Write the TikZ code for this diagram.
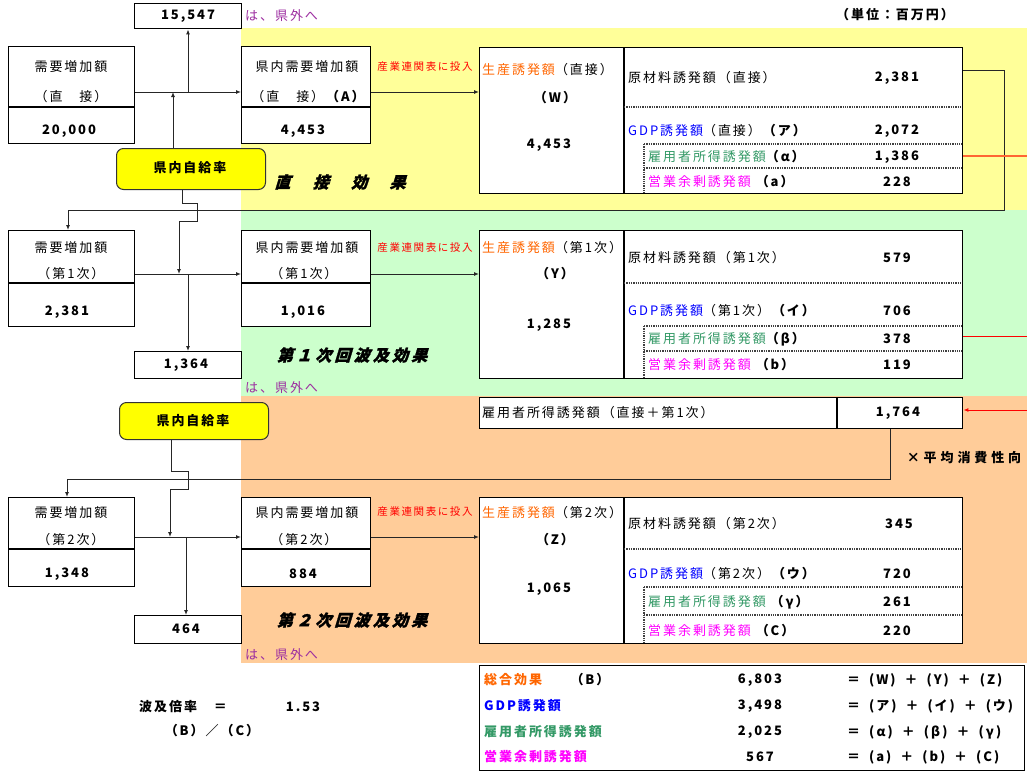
\documentclass[tikz,border=0pt]{standalone}
\usepackage{fontspec}
\setmainfont[LetterSpace=15]{Noto Sans CJK JP}
\newfontfamily\slfont[FakeSlant=0.3,LetterSpace=20,BoldFeatures={FakeBold=1.5}]{Noto Sans CJK JP}
\newfontfamily\widefont[LetterSpace=30]{Noto Sans CJK JP}
\usetikzlibrary{arrows.meta,calc}
\definecolor{bgY}{HTML}{FFFF99}
\definecolor{bgG}{HTML}{CCFFCC}
\definecolor{bgO}{HTML}{FFCC99}
\definecolor{selfY}{HTML}{FFFF00}
\definecolor{cOr}{HTML}{FF6600}
\definecolor{cBl}{HTML}{0000FF}
\definecolor{cGr}{HTML}{339966}
\definecolor{cMg}{HTML}{FF00FF}
\definecolor{cPu}{HTML}{9C2DA0}
\definecolor{cRd}{HTML}{FF0000}
\definecolor{cOl}{HTML}{FF6633}
\newcommand\msz{\fontsize{13}{15}\selectfont}
\newcommand\ssz{\fontsize{10.5}{12}\selectfont}
\newcommand\bsz{\fontsize{16}{18}\selectfont}
\newcommand\gp{\hspace{9pt}}
\begin{document}
\begin{tikzpicture}[x=1pt,y=-1pt,
  box/.style={draw,line width=1.4pt,fill=white,inner sep=0,anchor=north west},
  rbox/.style={draw=black!80,line width=1pt,fill=selfY,rounded corners=7pt,inner sep=0,anchor=north west},
  t/.style={inner sep=0,font=\msz},
  tl/.style={inner sep=0,font=\msz,anchor=west},
  nb/.style={inner sep=0,font=\msz\bfseries},
  red/.style={inner sep=0,font=\ssz,text=cRd},
  pur/.style={inner sep=0,font=\msz,text=cPu,anchor=west},
  eff/.style={inner sep=0,font=\bsz\slfont\bfseries},
  ln/.style={line width=1pt,black!85},
  arr/.style={line width=1pt,black!85,-{Latex[length=5pt,width=4pt]}},
  dsh/.style={line width=1.3pt,densely dotted,black!75},
  sol/.style={line width=1.4pt},
  rline/.style={line width=1pt,cRd},
  oline/.style={line width=1.4pt,cOl}]
\useasboundingbox (0,0) rectangle (1027,771);
% backgrounds
\fill[bgY] (241,28) rectangle (1027,210);
\fill[bgG] (241,210) rectangle (1027,396);
\fill[bgO] (241,396) rectangle (1027,663);

\node[inner sep=0,font=\msz\bfseries] (unit) at (895,15) {（単位：百万円）};

% ================= direct effect =================
\node[box,minimum width=107,minimum height=25] (out0) at (134,3) {};
\node[nb] (out0t) at (188,16) {15,547};
\node[pur] (out0p) at (245,16) {は、県外へ};

\node[box,minimum width=126,minimum height=97] (d0) at (8,46) {};
\draw[sol] (8,107) -- (134,107);
\node[t] (d0a) at (71,67) {需要増加額};
\node[t] (d0b) at (71,97) {（直　接）};
\node[nb] (d0c) at (69,131) {20,000};

\node[box,minimum width=129,minimum height=97] (k0) at (241,46) {};
\draw[sol] (241,107) -- (370,107);
\node[t] (k0a) at (307,67) {県内需要増加額};
\node[t] (k0b) at (309,97) {（直　接）\textbf{（A）}};
\node[nb] (k0c) at (303,131) {4,453};
\node[red] (io0) at (425,67) {産業連関表に投入};

\node[box,minimum width=483,minimum height=146] (p0) at (479,47) {};
\draw[sol] (624,47) -- (624,193);
\draw[dsh] (624,107) -- (962,107);
\draw[dsh] (644,144) -- (962,144);
\draw[dsh] (644,168) -- (962,168);
\draw[dsh] (644,144) -- (644,193);
\node[tl] (p0a) at (482,70) {\textcolor{cOr}{生産誘発額}（直接）};
\node[nb] (p0b) at (555,98) {（W）};
\node[nb] (p0c) at (549,145) {4,453};
\node[tl] (p0d) at (628,78) {原材料誘発額（直接）};
\node[nb] (p0e) at (897,78) {2,381};
\node[tl] (p0f) at (628,131) {\textcolor{cBl}{GDP誘発額}（直接）\textbf{（ア）}};
\node[nb] (p0g) at (897,131) {2,072};
\node[tl] (p0h) at (648,157) {\textcolor{cGr}{雇用者所得誘発額}\textbf{（α）}};
\node[nb] (p0i) at (897,157) {1,386};
\node[tl] (p0j) at (648,182) {\textcolor{cMg}{営業余剰誘発額}\ \textbf{（a）}};
\node[nb] (p0k) at (897,182) {228};

\node[rbox,minimum width=149,minimum height=41] (r0) at (116,148) {};
\node[nb] (r0t) at (190,168) {県内自給率};
\node[eff] (eff0) at (340,182) {直　接　効　果};

\coordinate (a0) at (188,92);
\coordinate (s0) at (173,92);
\draw[arr] (d0.east |- a0) -- (k0.west |- a0);
\draw[arr] (a0) -- (out0.south -| a0);
\draw[arr] (r0.north -| s0) -- (s0);
\draw[arr] (k0.east |- a0) -- (p0.west |- a0);

% feedback from direct
\coordinate (f0a) at (1004,70);
\coordinate (f0b) at (1004,210);
\coordinate (f0c) at (68,210);
\draw[arr] (p0.east |- f0a) -- (f0a) -- (f0b) -- (f0c) -- (68,230);
\coordinate (o0) at (1027,156);
\draw[oline] (p0.east |- o0) -- (o0);

% ================= first round =================
\node[box,minimum width=126,minimum height=96] (d1) at (8,230) {};
\draw[sol] (8,283) -- (134,283);
\node[t] (d1a) at (71,248) {需要増加額};
\node[t] (d1b) at (71,274) {（第1次）};
\node[nb] (d1c) at (67,312) {2,381};

\node[box,minimum width=129,minimum height=96] (k1) at (241,230) {};
\draw[sol] (241,283) -- (370,283);
\node[t] (k1a) at (307,248) {県内需要増加額};
\node[t] (k1b) at (304,274) {（第1次）};
\node[nb] (k1c) at (303,312) {1,016};
\node[red] (io1) at (425,248) {産業連関表に投入};

\node[box,minimum width=107,minimum height=27] (out1) at (134,351) {};
\node[nb] (out1t) at (186,365) {1,364};
\node[pur] (out1p) at (245,388) {は、県外へ};

\node[box,minimum width=483,minimum height=148] (p1) at (479,230) {};
\draw[sol] (624,230) -- (624,378);
\draw[dsh] (624,283) -- (962,283);
\draw[dsh] (644,326) -- (962,326);
\draw[dsh] (644,351) -- (962,351);
\draw[dsh] (644,326) -- (644,378);
\node[tl] (p1a) at (482,248) {\textcolor{cOr}{生産誘発額}（第1次）};
\node[nb] (p1b) at (555,274) {（Y）};
\node[nb] (p1c) at (549,325) {1,285};
\node[tl] (p1d) at (628,258) {原材料誘発額（第1次）};
\node[nb] (p1e) at (897,258) {579};
\node[tl] (p1f) at (628,311) {\textcolor{cBl}{GDP誘発額}（第1次）\textbf{（イ）}};
\node[nb] (p1g) at (897,311) {706};
\node[tl] (p1h) at (648,339) {\textcolor{cGr}{雇用者所得誘発額}\textbf{（β）}};
\node[nb] (p1i) at (897,339) {378};
\node[tl] (p1j) at (648,365) {\textcolor{cMg}{営業余剰誘発額}\ \textbf{（b）}};
\node[nb] (p1k) at (897,365) {119};
\node[eff] (eff1) at (352,355) {第１次回波及効果};

\coordinate (a1) at (188,274);
\coordinate (s1) at (179,274);
\draw[ln] (r0.south -| 182,0) -- (182,203) -- (197,203) -- (197,221) -- (179,221);
\draw[arr] (179,221) -- (s1);
\draw[arr] (d1.east |- a1) -- (k1.west |- a1);
\draw[arr] (a1) -- (out1.north -| a1);
\draw[arr] (k1.east |- a1) -- (p1.west |- a1);
\coordinate (o1) at (1027,336);
\draw[rline] (p1.east |- o1) -- (o1);

% ================= employee income & second round =================
\node[box,minimum width=483,minimum height=31] (e1) at (479,397) {};
\draw[sol] (837,397) -- (837,428);
\node[tl] (e1a) at (482,413) {雇用者所得誘発額（直接＋第1次）};
\node[nb] (e1b) at (898,413) {1,764};
\coordinate (o2) at (1027,410);
\draw[rline,-{Latex[length=5pt,width=4pt]}] (o2) -- (e1.east |- o2);
\node[inner sep=0,font=\msz\widefont\bfseries] (mpc) at (964,458) {×平均消費性向};

\node[rbox,minimum width=149,minimum height=37] (r1) at (119,402) {};
\node[nb] (r1t) at (193,421) {県内自給率};

\coordinate (f1a) at (890,479);
\coordinate (f1b) at (67,479);
\draw[arr] (e1.south -| f1a) -- (f1a) -- (f1b) -- (67,497);

\node[box,minimum width=126,minimum height=89] (d2) at (8,497) {};
\draw[sol] (8,549) -- (134,549);
\node[t] (d2a) at (71,513) {需要増加額};
\node[t] (d2b) at (71,540) {（第2次）};
\node[nb] (d2c) at (67,574) {1,348};

\node[box,minimum width=129,minimum height=89] (k2) at (241,497) {};
\draw[sol] (241,549) -- (370,549);
\node[t] (k2a) at (307,513) {県内需要増加額};
\node[t] (k2b) at (304,540) {（第2次）};
\node[nb] (k2c) at (303,574) {884};
\node[red] (io2) at (425,512) {産業連関表に投入};

\node[box,minimum width=107,minimum height=28] (out2) at (134,615) {};
\node[nb] (out2t) at (186,629) {464};
\node[pur] (out2p) at (245,655) {は、県外へ};

\node[box,minimum width=483,minimum height=146] (p2) at (479,497) {};
\draw[sol] (624,497) -- (624,643);
\draw[dsh] (624,549) -- (962,549);
\draw[dsh] (644,587) -- (962,587);
\draw[dsh] (644,615) -- (962,615);
\draw[dsh] (644,587) -- (644,643);
\node[tl] (p2a) at (482,513) {\textcolor{cOr}{生産誘発額}（第2次）};
\node[nb] (p2b) at (555,540) {（Z）};
\node[nb] (p2c) at (549,589) {1,065};
\node[tl] (p2d) at (628,524) {原材料誘発額（第2次）};
\node[nb] (p2e) at (899,524) {345};
\node[tl] (p2f) at (628,574) {\textcolor{cBl}{GDP誘発額}（第2次）\textbf{（ウ）}};
\node[nb] (p2g) at (897,574) {720};
\node[tl] (p2h) at (648,602) {\textcolor{cGr}{雇用者所得誘発額}\ \textbf{（γ）}};
\node[nb] (p2i) at (897,602) {261};
\node[tl] (p2j) at (648,631) {\textcolor{cMg}{営業余剰誘発額}\ \textbf{（C）}};
\node[nb] (p2k) at (897,631) {220};
\node[eff] (eff2) at (352,620) {第２次回波及効果};

\coordinate (a2) at (186,537);
\coordinate (s2) at (170,537);
\draw[ln] (r1.south -| 171,0) -- (171,471) -- (188,471) -- (188,489) -- (170,489);
\draw[arr] (170,489) -- (s2);
\draw[arr] (d2.east |- a2) -- (k2.west |- a2);
\draw[arr] (a2) -- (out2.north -| a2);
\draw[arr] (k2.east |- a2) -- (p2.west |- a2);

% ================= totals =================
\node[box,minimum width=545,minimum height=105] (tot) at (479,665) {};
\node[tl,font=\msz\bfseries,text=cOr] (t1a) at (484,680) {総合効果};
\node[nb] (t1b) at (590,680) {（B）};
\node[nb] (t1c) at (760,680) {6,803};
\node[tl,font=\msz\bfseries] (t1d) at (847,680) {＝\gp(W)\gp＋\gp(Y)\gp＋\gp(Z)};
\node[tl,font=\msz\bfseries,text=cBl] (t2a) at (484,706) {GDP誘発額};
\node[nb] (t2c) at (760,706) {3,498};
\node[tl,font=\msz\bfseries] (t2d) at (847,706) {＝\gp(ア)\gp＋\gp(イ)\gp＋\gp(ウ)};
\node[tl,font=\msz\bfseries,text=cGr] (t3a) at (484,732) {雇用者所得誘発額};
\node[nb] (t3c) at (760,732) {2,025};
\node[tl,font=\msz\bfseries] (t3d) at (847,732) {＝\gp(\,α\,)\gp＋\gp(\,β\,)\gp＋\gp(\,γ\,)};
\node[tl,font=\msz\bfseries,text=cMg] (t4a) at (484,757) {営業余剰誘発額};
\node[nb] (t4c) at (760,757) {567};
\node[tl,font=\msz\bfseries] (t4d) at (847,757) {＝\gp(a)\gp＋\gp(b)\gp＋\gp(C)};

\node[tl,font=\msz\bfseries] (m1) at (139,707) {波及倍率　＝};
\node[nb] (m2) at (303,707) {1.53};
\node[nb] (m3) at (212,731) {（B）／（C）};
\end{tikzpicture}
\end{document}
